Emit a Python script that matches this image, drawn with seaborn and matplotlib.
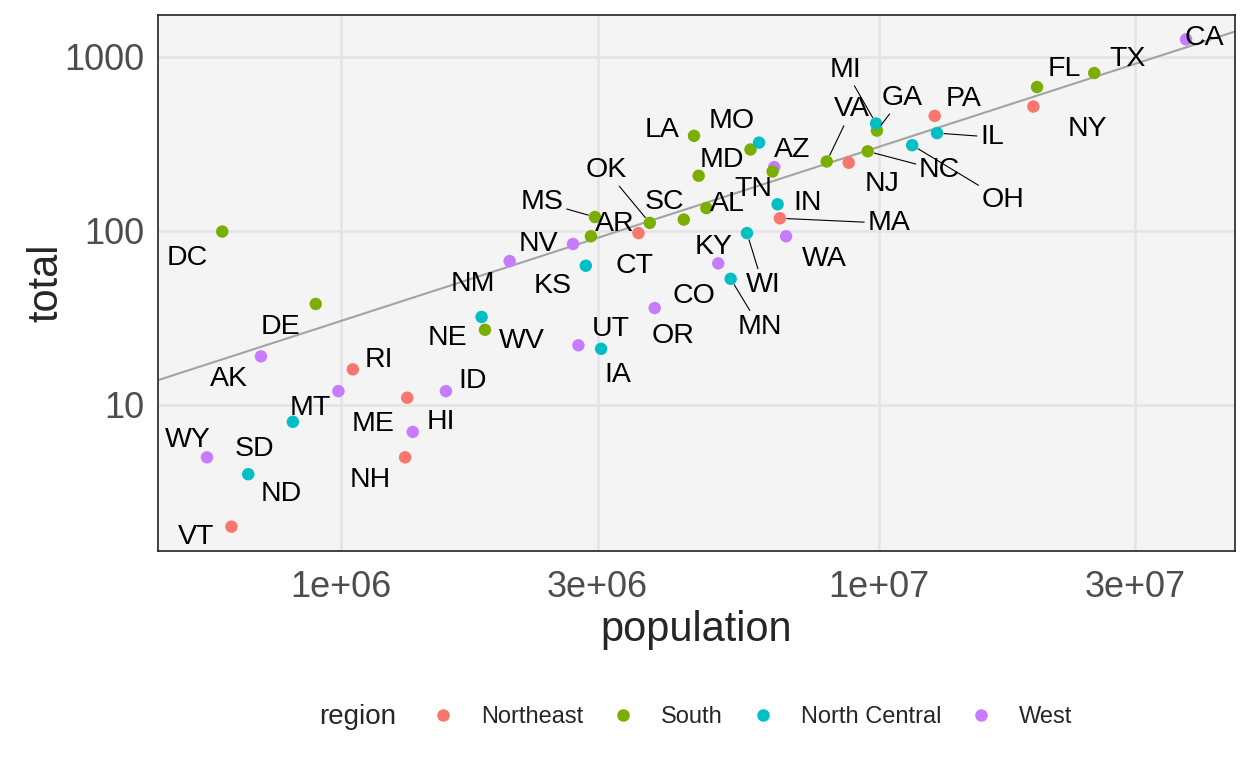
import numpy as np
import pandas as pd
import seaborn as sns
import matplotlib.pyplot as plt
from matplotlib.lines import Line2D

# US gun murders 2010 (dslabs murders)
abb = ["AL", "AK", "AZ", "AR", "CA", "CO", "CT", "DE", "DC", "FL", "GA", "HI", "ID",
       "IL", "IN", "IA", "KS", "KY", "LA", "ME", "MD", "MA", "MI", "MN", "MS", "MO",
       "MT", "NE", "NV", "NH", "NJ", "NM", "NY", "NC", "ND", "OH", "OK", "OR", "PA",
       "RI", "SC", "SD", "TN", "TX", "UT", "VT", "VA", "WA", "WV", "WI", "WY"]
region = ["South", "West", "West", "South", "West", "West", "Northeast", "South", "South",
          "South", "South", "West", "West", "North Central", "North Central", "North Central",
          "North Central", "South", "South", "Northeast", "South", "Northeast", "North Central",
          "North Central", "South", "North Central", "West", "North Central", "West",
          "Northeast", "Northeast", "West", "Northeast", "South", "North Central",
          "North Central", "South", "West", "Northeast", "Northeast", "South", "North Central",
          "South", "South", "West", "Northeast", "South", "West", "South", "North Central",
          "West"]
population = [4779736, 710231, 6392017, 2915918, 37253956, 5029196, 3574097, 897934, 601723,
              19687653, 9920000, 1360301, 1567582, 12830632, 6483802, 3046355, 2853118,
              4339367, 4533372, 1328361, 5773552, 6547629, 9883640, 5303925, 2967297,
              5988927, 989415, 1826341, 2700551, 1316470, 8791894, 2059179, 19378102,
              9535483, 672591, 11536504, 3751351, 3831074, 12702379, 1052567, 4625364,
              814180, 6346105, 25145561, 2763885, 625741, 8001024, 6724540, 1852994,
              5686986, 563626]
total = [135, 19, 232, 93, 1257, 65, 97, 38, 99, 669, 376, 7, 12, 364, 142, 21, 63, 116, 351,
         11, 293, 118, 413, 53, 120, 321, 12, 32, 84, 5, 246, 67, 517, 286, 4, 310, 111, 36,
         457, 16, 207, 8, 219, 805, 22, 2, 250, 93, 27, 97, 5]

region_order = ["Northeast", "South", "North Central", "West"]
colors = ["#F8766D", "#7CAE00", "#00BFC4", "#C77CFF"]

# label offsets in pixels (dx right, dy down), and which get a leader segment
label_offset = {
    "CA": (18, -4), "TX": (33, -17), "FL": (27, -21), "NY": (54, 19), "PA": (29, -20),
    "IL": (55, 1), "OH": (91, 52), "NC": (72, 16), "NJ": (33, 18), "GA": (25, -36),
    "MI": (-31, -57), "VA": (25, -55), "MA": (109, 2), "WA": (38, 20), "AZ": (18, -20),
    "TN": (-19, 14), "IN": (30, -4), "MO": (-27, -25), "MD": (-29, 8), "LA": (-32, -9),
    "AL": (21, -7), "SC": (-34, 23), "KY": (30, 24), "CO": (-24, 30), "OR": (18, 25),
    "WI": (16, 49), "MN": (29, 45), "KS": (-33, 17), "CT": (-4, 30), "AR": (24, -15),
    "OK": (-44, -56), "MS": (-53, -18), "NV": (-35, -3), "NM": (-37, 20), "UT": (32, -19),
    "IA": (17, 23), "NE": (-34, 18), "WV": (37, 8), "ID": (27, -13), "HI": (28, -13),
    "ME": (-34, 23), "NH": (-35, 20), "RI": (26, -12), "MT": (-28, 14), "DE": (-35, 20),
    "AK": (-32, 20), "SD": (-38, 24), "ND": (33, 17), "WY": (-19, -20), "VT": (-35, 7),
    "DC": (-35, 23),
}
segment = ["MS", "OK", "MI", "GA", "IL", "NC", "OH", "MA", "VA", "WI", "MN"]

murders = pd.DataFrame({"abb": abb, "region": region,
                        "population": population, "total": total})

sns.set_style("whitegrid")
plt.rcParams["font.family"] = ["Liberation Sans", "DejaVu Sans"]

fig = plt.figure(figsize=(12.48, 7.68), dpi=100)
ax = fig.add_axes([158 / 1248, 1 - 551 / 768, 1077 / 1248, 536 / 768])
ax.set_facecolor("#F4F4F4")

# axis limits: ggplot style 5% expansion on log scale
lx = np.log10(murders.population)
ly = np.log10(murders.total)
ex, ey = 0.05 * (lx.max() - lx.min()), 0.05 * (ly.max() - ly.min())
xlim = (10 ** (lx.min() - ex), 10 ** (lx.max() + ex))
ylim = (10 ** (ly.min() - ey), 10 ** (ly.max() + ey))

r = murders.total.sum() / murders.population.sum()
xs = np.array(xlim)
ax.plot(xs, r * xs, color="#A3A3A3", lw=1.5, zorder=2)

sns.scatterplot(data=murders, x="population", y="total", hue="region",
                hue_order=region_order, palette=colors, s=80, linewidth=0,
                legend=False, ax=ax, zorder=3)

ax.set_xscale("log")
ax.set_yscale("log")
ax.set_xlim(xlim)
ax.set_ylim(ylim)
ax.set_xticks([1e6, 3e6, 1e7, 3e7], ["1e+06", "3e+06", "1e+07", "3e+07"])
ax.set_yticks([10, 100, 1000], ["10", "100", "1000"])
ax.minorticks_off()
ax.grid(True, color="#E4E4E4", lw=1.8)
ax.tick_params(labelsize=26, labelcolor="#4D4D4D", length=0)
ax.tick_params(axis="y", pad=10)
ax.tick_params(axis="x", pad=14)
for sp in ax.spines.values():
    sp.set_color("#222222")
    sp.set_linewidth(1.2)
ax.set_xlabel("population", fontsize=30, labelpad=3)
ax.set_ylabel("total", fontsize=30, labelpad=-2)

for a, p, t in zip(abb, population, total):
    dx, dy = label_offset[a]
    kw = {}
    if a in segment:
        kw["arrowprops"] = dict(arrowstyle="-", color="black", lw=0.8,
                                shrinkA=0, shrinkB=5)
    ax.annotate(a, (p, t), xytext=(dx, -dy - 3), textcoords="offset pixels",
                ha="center", va="center", fontsize=20.5, color="black", zorder=4, **kw)

handles = [Line2D([], [], marker="o", ls="", color=c, markersize=8) for c in colors]
fig.legend(handles, region_order, loc="center", bbox_to_anchor=(752 / 1248, 1 - 717 / 768),
           ncol=4, frameon=False, fontsize=17, handlelength=1.0, handletextpad=1.1,
           columnspacing=1.2)
fig.text(358 / 1248, 1 - 717 / 768, "region", fontsize=20, ha="center", va="center")

fig.savefig("out.png", dpi=100)
